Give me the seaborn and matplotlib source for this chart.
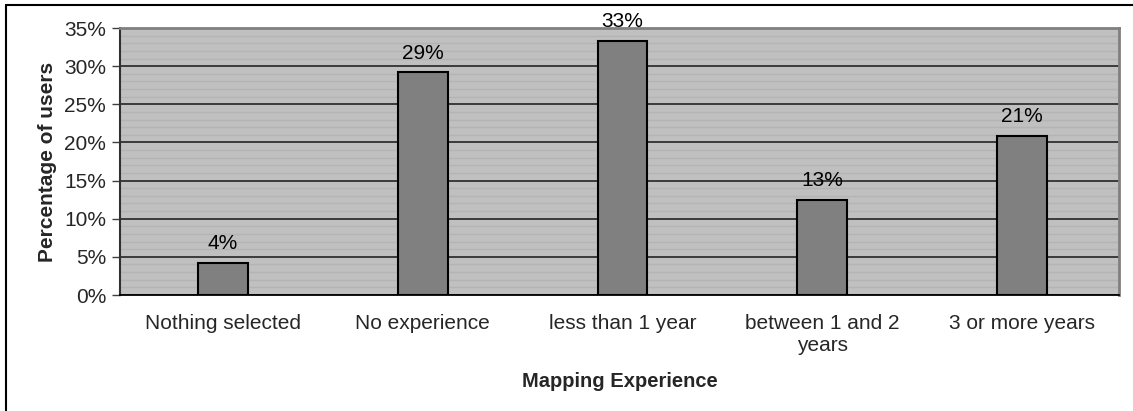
import matplotlib
matplotlib.use("Agg")
import matplotlib.pyplot as plt
from matplotlib.lines import Line2D
from matplotlib.ticker import MultipleLocator, PercentFormatter
import seaborn as sns
import pandas as pd

categories = ["Nothing selected", "No experience", "less than 1 year",
              "between 1 and 2\nyears", "3 or more years"]
values = [4.17, 29.17, 33.33, 12.5, 20.83]
value_labels = ["4%", "29%", "33%", "13%", "21%"]
y_ticks = [0, 5, 10, 15, 20, 25, 30, 35]

df = pd.DataFrame({"cat": categories, "val": values})

sns.set_theme(style="white")
plt.rcParams["font.family"] = ["Liberation Sans", "DejaVu Sans"]

W, H = 1133, 411
fig = plt.figure(figsize=(W / 100, H / 100), dpi=100)
ax = fig.add_axes([120 / W, 1 - 295 / H, (1119 - 120) / W, (295 - 28) / H])
ax.set_facecolor("#C0C0C0")

sns.barplot(data=df, x="cat", y="val", ax=ax, color="#808080", width=0.25,
            edgecolor="black", linewidth=1.5, saturation=1, zorder=3)

ax.set_ylim(0, 35)
ax.set_xlim(-0.515, 4.485)
ax.set_yticks(y_ticks)
ax.yaxis.set_major_formatter(PercentFormatter(decimals=0))
ax.yaxis.set_minor_locator(MultipleLocator(1))
ax.grid(which="minor", axis="y", color="#B4B4B4", linewidth=1.0, zorder=0)
ax.grid(which="major", axis="y", color="#303030", linewidth=1.3, zorder=1)
ax.set_axisbelow(True)

ax.tick_params(axis="y", which="major", direction="out", length=6, width=1,
               color="#404040", labelsize=15, left=True, pad=4)
ax.tick_params(axis="y", which="minor", left=False)
ax.tick_params(axis="x", bottom=False, labelsize=15, pad=8)
for lab in ax.get_xticklabels():
    lab.set_linespacing(1.2)

for s in ["top", "right"]:
    ax.spines[s].set_color("#808080")
    ax.spines[s].set_linewidth(2)
ax.spines["left"].set_color("#303030")
ax.spines["left"].set_linewidth(1.5)
ax.spines["bottom"].set_color("black")
ax.spines["bottom"].set_linewidth(1.3)

for i, (v, t) in enumerate(zip(values, value_labels)):
    ax.annotate(t, (i, v), xytext=(0, 7), textcoords="offset points",
                ha="center", va="bottom", fontsize=15, color="black")

ax.set_xlabel("Mapping Experience", fontsize=14.5, fontweight="bold", labelpad=12)
ax.set_ylabel("Percentage of users", fontsize=15, fontweight="bold", labelpad=5)

# outer frame (left and top edges)
fig.add_artist(Line2D([6 / W, 6 / W], [0, 1 - 5 / H], color="black",
                      linewidth=1.5, transform=fig.transFigure))
fig.add_artist(Line2D([6 / W, 1], [1 - 5 / H, 1 - 5 / H], color="black",
                      linewidth=1.5, transform=fig.transFigure))

fig.savefig("out.png", dpi=100, facecolor="white")
